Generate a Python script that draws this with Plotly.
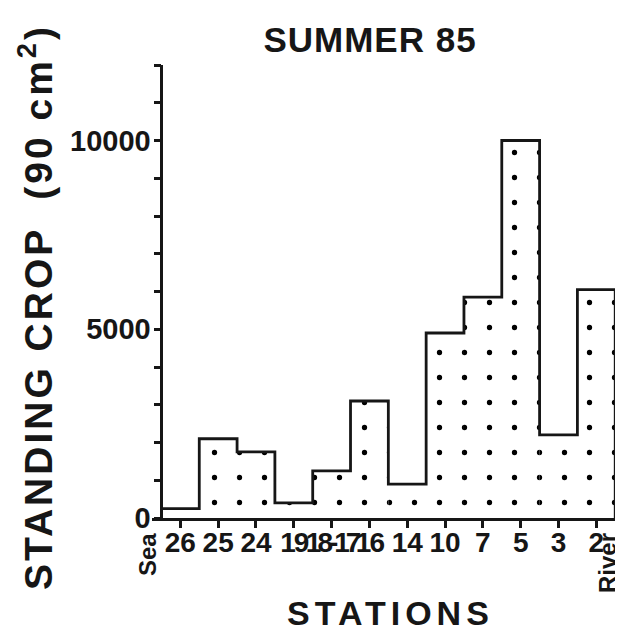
import plotly.graph_objects as go

# ---- data ----
stations = ["26", "25", "24", "19", "18-17", "16", "14", "10", "7", "5", "3", "2"]
standing_crop = [250, 2100, 1750, 400, 1250, 3100, 900, 4900, 5850, 10000, 2200, 6050]
y_tick_vals = [0, 5000, 10000]
y_tick_text = ["0", "5000", "10000"]

INK = "#161616"
FONT = "Liberation Sans, Arial, sans-serif"

# The page body has an 8px default margin; the figure is sized so it fits the window.
OFF = 8
W, H = 623 - OFF, 633 - OFF

pos = list(range(len(stations)))
# step outline derived from the bar values (histogram-style outline)
step_x = [pos[0] - 0.5] + [p + 0.5 for p in pos] + [pos[-1] + 0.5]
step_y = [0] + standing_crop + [0]

# tighten the crowded middle labels
tight = {"19": -2, "18-17": -4, "16": -2}
tick_text = [
    (f'<span style="letter-spacing:{tight[s]}px">{s}</span>' if s in tight else s)
    for s in stations
]

fig = go.Figure()
fig.add_trace(go.Bar(
    x=pos, y=standing_crop, width=1.0,
    marker=dict(color="white", line=dict(width=0),
                pattern=dict(shape=".", size=25, solidity=0.035, fgopacity=1,
                             fgcolor="#000000", bgcolor="white", fillmode="overlay")),
    showlegend=False, hoverinfo="skip",
))
fig.add_trace(go.Scatter(
    x=step_x, y=step_y, mode="lines", line=dict(shape="vh", color=INK, width=2.8),
    showlegend=False, hoverinfo="skip",
))

x_range = [-0.75, 11.6]
yaxis_pos = (pos[0] - 0.5 - x_range[0]) / (x_range[1] - x_range[0])

# plot area in page pixels: x 152..619, y 65..518
PL, PR, PT, PB = 152, 619, 65, 518
pw, ph = PR - PL, PB - PT


def px(xp):
    return (xp - PL) / pw


def py(yp):
    return (PB - yp) / ph


fig.update_layout(
    width=W, height=H,
    margin=dict(l=PL - OFF, r=W - (PR - OFF), t=PT - OFF, b=H - (PB - OFF)),
    paper_bgcolor="white", plot_bgcolor="white",
    font=dict(family=FONT, color=INK),
    title=dict(text='<span style="letter-spacing:1px">SUMMER 85</span>', xref="container",
               x=(370 - OFF) / W, xanchor="center",
               yref="container", y=1 - (40 - OFF) / H, yanchor="middle",
               font=dict(size=35, weight="bold", family=FONT, color=INK)),
    xaxis=dict(range=x_range, tickvals=pos, ticktext=tick_text, tickangle=0,
               ticks="outside", ticklen=7, tickwidth=2.5, tickcolor=INK,
               showline=True, linecolor=INK, linewidth=2.8,
               showgrid=False, zeroline=False, ticklabelstandoff=-10,
               tickfont=dict(size=28, weight="bold", family=FONT, color=INK)),
    yaxis=dict(range=[0, 12000], anchor="free", position=yaxis_pos,
               tickvals=y_tick_vals, ticktext=y_tick_text,
               ticks="outside", ticklen=7, tickwidth=2.5, tickcolor=INK,
               minor=dict(dtick=1000, ticks="outside", ticklen=7, tickwidth=2.5, tickcolor=INK),
               showline=True, linecolor=INK, linewidth=2.8,
               showgrid=False, zeroline=False, ticklabelstandoff=-3,
               tickfont=dict(size=29, weight="bold", family=FONT, color=INK)),
    annotations=[
        dict(text='<span style="letter-spacing:5px">STATIONS</span>', xref="paper", yref="paper",
             x=px(390), y=py(613), xanchor="center", yanchor="middle", showarrow=False,
             font=dict(size=34, weight="bold", family=FONT, color=INK)),
        dict(text='<span style="letter-spacing:3px">STANDING CROP  (90 cm<sup>2</sup>)</span>',
             xref="paper", yref="paper", x=px(35), y=py(307), textangle=-90,
             xanchor="center", yanchor="middle", showarrow=False,
             font=dict(size=39, weight="bold", family=FONT, color=INK)),
        dict(text="Sea", xref="paper", yref="paper", x=px(147), y=py(555),
             textangle=-90, xanchor="center", yanchor="middle", showarrow=False,
             font=dict(size=24, weight="bold", family=FONT, color=INK)),
        dict(text="River", xref="paper", yref="paper", x=px(607), y=py(563),
             textangle=-90, xanchor="center", yanchor="middle", showarrow=False,
             font=dict(size=24, weight="bold", family=FONT, color=INK)),
    ],
)

fig.write_html("out.html")
